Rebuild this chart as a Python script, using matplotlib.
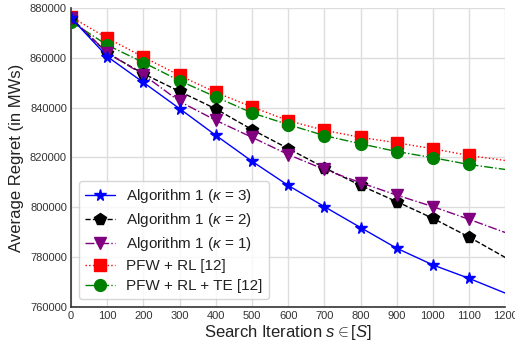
import matplotlib
matplotlib.use("Agg")
import matplotlib.pyplot as plt
import seaborn as sns

iterations = [0, 100, 200, 300, 400, 500, 600, 700, 800, 900, 1000, 1100, 1200]

algo_k3 = [876000, 860500, 850100, 839600, 828900, 818500, 808800,
           800300, 791900, 783600, 776900, 771500, 765600]
algo_k2 = [876000, 861900, 853600, 846500, 839500, 831200, 823600,
           815900, 808800, 802300, 795600, 788100, 779900]
algo_k1 = [876000, 862000, 853200, 842500, 834900, 828100, 821200,
           815200, 809900, 804900, 800300, 795200, 789900]
pfw_rl = [876400, 867900, 860300, 852900, 846100, 840300, 834800,
          830900, 828100, 825900, 823500, 820800, 818800]
pfw_rl_te = [874500, 865100, 858100, 850800, 844300, 837900, 833200,
             828800, 825500, 822400, 819900, 817200, 815200]

x_ticks = [0, 100, 200, 300, 400, 500, 600, 700, 800, 900, 1000, 1100, 1200]
y_ticks = [760000, 780000, 800000, 820000, 840000, 860000, 880000]


def main():
    sns.set_style("whitegrid")
    plt.rcParams['font.family'] = ['Liberation Sans', 'DejaVu Sans']
    plt.rcParams['mathtext.fontset'] = 'custom'
    plt.rcParams['mathtext.it'] = 'Liberation Sans:italic'
    plt.rcParams['mathtext.rm'] = 'Liberation Sans'

    fig = plt.figure(figsize=(5.15, 3.45), dpi=100)
    ax = fig.add_axes([0.138, 0.110, 0.843, 0.867])

    marks = slice(0, 12)
    ax.plot(iterations, algo_k3, color='blue', linestyle='-', marker='*',
            markersize=8.5, linewidth=1, markevery=marks,
            label=r'Algorithm 1 ($\kappa$ = 3)', zorder=5)
    ax.plot(iterations, algo_k2, color='black', linestyle='--', marker='p',
            markersize=8.5, linewidth=1, markevery=marks,
            label=r'Algorithm 1 ($\kappa$ = 2)', zorder=4)
    ax.plot(iterations, algo_k1, color='purple', linestyle='-.', marker='v',
            markersize=8.5, linewidth=1, markevery=marks,
            label=r'Algorithm 1 ($\kappa$ = 1)', zorder=4)
    ax.plot(iterations, pfw_rl, color='red', linestyle=':', marker='s',
            markersize=8.5, linewidth=1, markevery=marks,
            label='PFW + RL [12]', zorder=3)
    ax.plot(iterations, pfw_rl_te, color='green', linestyle='-.', marker='o',
            markersize=8.5, linewidth=1, markevery=marks,
            label='PFW + RL + TE [12]', zorder=3)

    ax.set_xlim(0, 1200)
    ax.set_ylim(760000, 880000)
    ax.set_xticks(x_ticks)
    ax.set_yticks(y_ticks)
    ax.tick_params(labelsize=8, length=0, pad=3, labelcolor='#333333')
    ax.grid(color='#dddddd', linewidth=1)

    for side in ['top', 'right']:
        ax.spines[side].set_visible(False)
    for side in ['left', 'bottom']:
        ax.spines[side].set_color('#333333')
        ax.spines[side].set_linewidth(1.2)

    ax.set_xlabel(r'Search Iteration $s \in [S]$', fontsize=12, labelpad=1,
                  color='#222222')
    ax.set_ylabel('Average Regret (in MWs)', fontsize=12, labelpad=4,
                  color='#222222')
    leg = ax.legend(loc='lower left', fontsize=11, handlelength=2.0,
                    handletextpad=0.7, labelspacing=0.4, borderpad=0.4)
    for t in leg.get_texts():
        t.set_color('#222222')

    fig.savefig("out.png", dpi=100)


if __name__ == "__main__":
    main()
